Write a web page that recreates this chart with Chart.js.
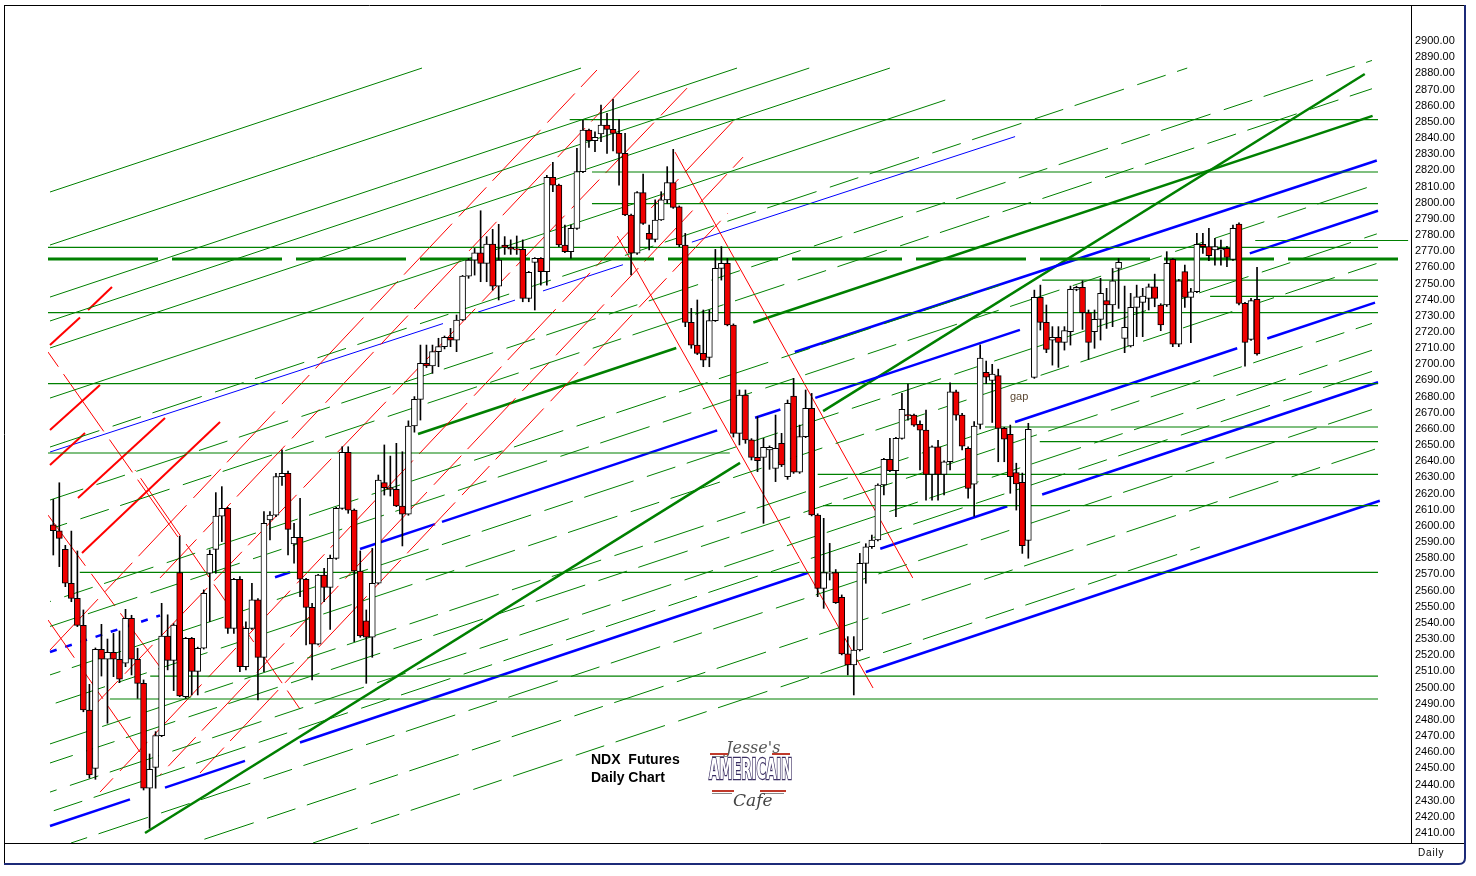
<!DOCTYPE html>
<html>
<head>
<meta charset="utf-8">
<title>NDX Futures Daily Chart</title>
<script src="https://cdn.jsdelivr.net/npm/chart.js@4.4.0/dist/chart.umd.min.js"></script>
<style>
  html, body { margin: 0; padding: 0; background: #fff; }
  #wrap { position: relative; width: 1476px; height: 876px; }
</style>
</head>
<body>
<div id="wrap"><canvas id="chart" width="1476" height="876"></canvas></div>
<script>
// daily OHLC (index 0 = first bar on the left)
const opens = [
  2600.6,2597.0,2585.5,2564.5,2555.2,2538.5,2486.1,2450.0,2523.6,2517.5,
  2521.8,2517.5,2515.0,2542.8,2517.5,2502.6,2437.7,2450.6,2470.2,2531.9,
  2516.8,2571.1,2494.3,2530.4,2510.0,2524.3,2570.7,2585.5,2606.1,2610.9,
  2536.6,2566.9,2512.9,2536.6,2554.2,2518.7,2603.7,2606.7,2630.5,2632.5,
  2588.8,2592.9,2567.0,2549.6,2526.9,2569.6,2562.0,2579.9,2610.9,2645.5,
  2609.8,2572.1,2541.2,2531.1,2564.5,2626.8,2623.7,2622.6,2612.3,2607.2,
  2661.8,2678.3,2700.6,2699.0,2707.8,2710.9,2716.7,2715.0,2727.4,2754.6,
  2764.5,2769.0,2762.4,2774.4,2748.4,2773.8,2772.3,2771.3,2771.1,2740.8,
  2763.1,2765.5,2757.3,2815.7,2810.9,2773.8,2769.7,2784.1,2819.2,2844.9,
  2838.3,2842.5,2848.0,2845.4,2842.9,2830.5,2792.4,2768.7,2806.2,2781.0,
  2777.3,2789.3,2801.7,2812.4,2797.5,2773.8,2725.9,2711.9,2706.8,2704.3,
  2727.0,2759.4,2762.5,2724.3,2657.3,2681.0,2653.2,2642.4,2642.4,2647.0,
  2635.6,2651.1,2630.5,2680.4,2633.3,2655.2,2672.7,2606.7,2561.4,2570.7,
  2571.1,2555.8,2520.8,2514.0,2523.2,2576.8,2587.1,2591.3,2625.3,2641.2,
  2634.2,2654.2,2668.9,2668.6,2662.8,2659.3,2631.9,2649.0,2631.9,2639.7,
  2683.0,2668.6,2648.0,2625.9,2662.8,2695.0,2690.0,2693.0,2660.4,2656.6,
  2633.0,2627.0,2591.1,2691.9,2741.4,2725.9,2715.0,2716.7,2713.6,2720.2,
  2746.4,2747.6,2731.9,2720.2,2727.8,2739.4,2736.7,2759.3,2716.0,2711.3,
  2735.2,2738.3,2740.8,2748.0,2736.7,2736.7,2764.9,2712.5,2757.3,2741.4,
  2744.9,2774.2,2772.8,2770.7,2770.7,2771.7,2764.9,2786.8,2737.7,2715.4,
  2740.2
];
const highs = [
  2616.4,2626.7,2588.0,2596.8,2584.5,2548.0,2502.0,2524.5,2539.1,2530.0,
  2533.5,2535.0,2548.4,2544.7,2524.3,2504.7,2458.9,2472.7,2552.1,2545.0,
  2539.5,2593.7,2531.0,2531.0,2525.0,2560.4,2585.1,2620.6,2624.3,2611.5,
  2567.5,2568.6,2540.7,2564.5,2555.0,2608.8,2608.8,2632.5,2647.0,2634.0,
  2601.6,2617.1,2567.5,2552.1,2570.0,2573.8,2582.0,2611.5,2649.0,2649.0,
  2610.5,2584.5,2548.0,2586.1,2631.5,2650.1,2643.2,2651.1,2645.9,2665.0,
  2680.0,2711.9,2711.9,2711.9,2716.1,2717.5,2722.2,2730.5,2755.0,2765.5,
  2771.7,2795.0,2779.0,2783.5,2786.6,2779.0,2777.0,2779.4,2777.0,2757.5,
  2766.0,2766.0,2817.0,2825.0,2811.5,2786.2,2786.2,2833.6,2851.1,2845.5,
  2843.9,2860.4,2855.3,2863.9,2851.5,2842.9,2793.0,2806.8,2817.7,2786.2,
  2801.7,2806.8,2822.3,2833.0,2798.0,2781.0,2734.6,2739.8,2733.6,2733.6,
  2771.1,2772.8,2765.5,2725.0,2684.1,2684.1,2654.0,2667.6,2654.2,2649.5,
  2668.6,2657.3,2677.9,2691.3,2662.4,2684.1,2682.0,2607.5,2604.7,2589.2,
  2573.0,2557.3,2531.5,2531.5,2583.0,2589.0,2594.4,2626.0,2641.8,2654.2,
  2654.8,2682.0,2687.8,2669.2,2665.0,2671.7,2649.6,2653.0,2640.3,2688.6,
  2684.1,2669.6,2649.0,2664.5,2712.0,2702.0,2700.0,2697.0,2661.0,2662.4,
  2638.8,2632.7,2663.5,2745.9,2749.0,2736.7,2723.3,2723.3,2723.3,2748.4,
  2748.4,2751.7,2733.6,2733.6,2753.2,2747.0,2759.3,2765.5,2748.4,2743.9,
  2749.0,2747.0,2749.7,2755.8,2737.5,2769.7,2765.5,2752.5,2761.4,2747.0,
  2781.0,2781.0,2784.1,2777.9,2776.9,2773.0,2786.2,2787.6,2738.3,2740.8,
  2760.0
];
const lows = [
  2582.0,2574.8,2562.4,2553.1,2537.7,2485.0,2444.0,2443.2,2507.1,2477.9,
  2506.7,2503.0,2512.9,2507.8,2493.3,2436.6,2412.9,2437.7,2469.6,2510.9,
  2498.1,2494.3,2493.3,2495.4,2495.4,2523.8,2540.8,2570.7,2590.3,2533.5,
  2533.5,2509.8,2510.9,2536.0,2492.3,2509.8,2591.3,2605.7,2625.0,2582.0,
  2576.9,2556.2,2526.3,2504.7,2526.3,2553.1,2536.0,2579.3,2610.3,2607.8,
  2528.4,2531.1,2502.6,2518.7,2564.0,2619.1,2618.5,2611.9,2587.6,2606.6,
  2658.0,2665.5,2698.0,2694.4,2698.5,2709.5,2710.9,2707.8,2727.0,2753.2,
  2755.2,2751.1,2751.1,2745.9,2739.8,2768.0,2768.0,2768.0,2738.7,2738.7,
  2733.6,2749.0,2749.0,2806.8,2772.8,2769.0,2765.6,2783.5,2818.6,2834.2,
  2831.5,2837.7,2830.5,2832.0,2810.9,2792.0,2755.3,2768.0,2786.5,2770.7,
  2775.8,2789.0,2799.6,2796.5,2772.8,2723.3,2709.9,2706.0,2698.5,2698.5,
  2726.5,2752.1,2723.8,2655.0,2650.1,2651.1,2640.8,2633.6,2601.6,2635.0,
  2627.4,2636.7,2628.8,2632.5,2632.5,2654.6,2606.2,2556.2,2549.0,2566.5,
  2552.0,2520.2,2507.8,2495.4,2522.6,2564.5,2586.0,2590.7,2619.1,2633.6,
  2605.7,2653.6,2665.5,2661.5,2634.6,2616.0,2616.0,2616.0,2619.1,2634.6,
  2665.5,2647.0,2617.1,2606.1,2660.0,2688.0,2664.0,2639.7,2639.7,2620.2,
  2609.8,2583.0,2580.0,2691.3,2721.2,2707.2,2699.5,2698.1,2708.8,2711.9,
  2745.5,2721.6,2703.0,2709.9,2715.0,2722.2,2723.3,2734.6,2707.2,2710.7,
  2717.1,2717.1,2733.6,2735.6,2720.8,2735.8,2710.9,2710.9,2735.2,2713.4,
  2744.3,2768.6,2764.1,2761.4,2761.4,2760.4,2764.3,2736.7,2698.9,2714.8,
  2705.7
];
const closes = [
  2597.0,2592.3,2564.5,2555.2,2538.5,2486.1,2445.9,2523.6,2517.5,2521.8,
  2517.5,2505.1,2542.8,2517.5,2502.6,2437.7,2449.4,2470.2,2531.9,2516.8,
  2538.7,2494.8,2530.4,2510.0,2524.3,2558.3,2582.4,2606.1,2610.9,2536.6,
  2566.9,2512.9,2536.6,2554.2,2518.7,2601.6,2606.7,2630.5,2632.5,2597.9,
  2592.9,2567.0,2549.6,2526.9,2569.6,2562.0,2579.9,2610.9,2645.5,2609.8,
  2572.1,2531.9,2531.1,2564.5,2628.4,2623.7,2622.6,2612.3,2607.2,2661.8,
  2678.3,2700.6,2699.0,2707.8,2710.9,2716.7,2715.0,2727.4,2754.6,2764.5,
  2769.0,2762.4,2774.4,2748.4,2764.5,2772.3,2771.3,2771.0,2740.8,2756.9,
  2765.5,2757.3,2815.7,2810.9,2773.8,2769.7,2784.1,2819.2,2844.9,2838.3,
  2840.4,2848.0,2845.4,2842.9,2830.5,2792.4,2768.7,2806.2,2787.2,2777.3,
  2789.3,2801.7,2812.4,2797.1,2773.8,2725.9,2711.9,2706.8,2702.6,2727.0,
  2759.4,2762.5,2724.3,2657.3,2681.0,2653.2,2642.4,2640.4,2648.6,2648.6,
  2648.0,2637.7,2675.9,2633.3,2655.2,2672.7,2606.8,2561.4,2571.1,2571.1,
  2552.5,2520.8,2514.0,2523.2,2576.8,2587.1,2591.3,2625.3,2641.2,2634.2,
  2654.2,2672.1,2668.0,2662.4,2659.3,2631.9,2649.0,2631.9,2639.7,2683.0,
  2668.6,2649.4,2623.2,2661.8,2703.9,2692.0,2694.0,2660.4,2653.6,2630.5,
  2626.0,2587.8,2659.7,2741.4,2725.9,2709.2,2716.7,2713.6,2720.8,2746.4,
  2747.6,2731.9,2713.6,2727.8,2743.9,2736.7,2751.7,2763.1,2722.9,2735.2,
  2741.8,2742.2,2748.0,2740.8,2724.3,2762.4,2712.5,2751.7,2741.4,2744.9,
  2774.2,2772.8,2767.2,2772.8,2771.7,2766.2,2784.1,2737.7,2713.6,2739.4,
  2706.4
];

const priceTicks = [
  2410,2420,2430,2440,2450,2460,2470,2480,2490,2500,
  2510,2520,2530,2540,2550,2560,2570,2580,2590,2600,
  2610,2620,2630,2640,2650,2660,2670,2680,2690,2700,
  2710,2720,2730,2740,2750,2760,2770,2780,2790,2800,
  2810,2820,2830,2840,2850,2860,2870,2880,2890,2900
];

// drawn lines, as [bar index, price, bar index, price]
const blueThick = [
  [135.0,2509.6,220.4,2615.6],
  [-0.55,2414.3,12.74,2430.8],[18.56,2438.1,31.85,2454.6],[40.99,2466.0,125.4,2571.0],
  [137.4,2585.9,158.5,2612.2],[164.3,2619.4,220.1,2688.9],
  [36.84,2568.2,39.33,2571.3],[50.96,2585.7,63.42,2601.1],[64.58,2602.5,110.3,2659.1],
  [116.6,2666.9,120.8,2672.0],[126.6,2679.2,160.6,2721.3],[198.8,2768.6,220.1,2795.0],
  [123.2,2707.6,219.9,2826.1],
  [159.8,2664.3,196.7,2709.9],[201.7,2716.0,219.6,2738.2]
];
const blueDashed = [
  [-0.55,2522.0,17.73,2544.6]
];
const blueThin = [
  [-0.55,2645.7,64.75,2725.2],[70.57,2732.3,76.71,2739.7],
  [81.36,2745.4,94.65,2761.6],[106.1,2775.6,159.8,2840.9]
];
const greenThick = [
  [15.24,2410.0,114.1,2639.0],[127.9,2671.0,217.9,2879.6],
  [60.6,2656.9,103.5,2710.1],[116.3,2725.9,219.2,2853.7]
];
// the fan of thin parallel green lines
const greenSolid = [
  [-0.55,2806.6,61.26,2883.3],[-0.55,2773.8,87.68,2883.3],
  [-0.55,2741.6,113.6,2883.3],[-0.55,2726.8,125.6,2883.3],
  [-0.55,2710.1,139.0,2883.3],[-0.55,2679.1,148.2,2863.5]
];
const greenBroken = [
  [-0.55,2648.8,188.4,2883.3],[-0.55,2616.0,219.1,2888.0],
  [-0.55,2598.1,219.1,2870.5],[-0.55,2553.2,157.3,2749.0],
  [-0.55,2537.8,219.1,2810.4],[-0.55,2507.8,219.9,2780.7],
  [-0.55,2489.2,219.9,2762.4],[-0.55,2465.1,157.3,2661.2],
  [-0.55,2453.3,219.1,2725.3],[-0.55,2435.3,219.1,2708.7],
  [-0.55,2423.0,219.1,2695.6],[2.94,2403.8,219.1,2672.0],
  [23.21,2403.8,219.6,2647.5],[43.15,2403.8,190.5,2587.0]
];
const redThin = [
  [93.7,2779.3,136.2,2499.7],
  [103.3,2831.3,142.8,2567.8]
];
// long thin red lines drawn with breaks
const redBroken = [
  [-0.55,2523.2,90.33,2882.1],[17.73,2567.8,97.48,2882.1],
  [6.60,2488.0,105.3,2870.9],[7.76,2435.3,113.6,2853.0],
  [17.73,2445.9,114.6,2828.2],[24.37,2447.1,112.1,2793.6],
  [-0.88,2707.6,21.05,2591.3],[13.57,2634.6,40.99,2486.7],
  [-0.88,2606.7,17.73,2512.7],[-0.88,2541.8,14.4,2460.1]
];
const redThick = [
  [-0.55,2711.9,4.44,2728.9],[5.77,2733.6,9.75,2747.8],
  [-0.55,2659.3,7.76,2687.2],[-0.55,2637.7,5.27,2657.5],
  [4.77,2583.2,27.7,2664.3],[4.10,2617.3,18.56,2666.8]
];
// horizontal levels: [price, from index, to index]
const levelsThick = [[2765.1,-0.88,225.1]];
const levels = [
  [2851.4,85.8,220.1],[2819.0,89.5,220.1],[2799.4,89.5,220.1],[2776.6,199.7,225.1],
  [2772.3,-0.88,220.1],[2752.1,164.3,220.1],[2742.0,192.2,220.1],[2732.0,-0.88,220.1],
  [2688.1,-0.88,220.1],[2661.2,154.8,220.1],[2652.1,163.9,220.1],[2645.1,-0.88,112.4],
  [2631.9,127.0,220.1],[2612.6,127.9,220.1],[2571.3,4.4,220.1],[2507.1,16.1,220.1],
  [2492.9,9.4,220.1]
];

const datasets = [];

function addSegments(list, color, width, dash) {
  list.forEach((s, n) => datasets.push({
    type: 'line',
    data: [{x: s[0], y: s[1]}, {x: s[2], y: s[3]}],
    borderColor: color, borderWidth: width, borderDash: dash || [],
    borderDashOffset: dash ? n * 17 : 0,
    pointRadius: 0, pointHoverRadius: 0, fill: false, tension: 0,
    order: 10, clip: 0
  }));
}
function addLevels(list, color, width, dash) {
  addSegments(list.map(l => [l[1], l[0], l[2], l[0]]), color, width, dash);
}

addSegments(greenSolid, '#008000', 1);
addSegments(greenBroken, '#008000', 1, [52, 14, 30, 12]);
addLevels(levels, '#008000', 1.2);
addLevels(levelsThick, '#008000', 3, [110, 14]);
addSegments(redBroken, '#ff0000', 1, [70, 10, 40, 9]);
addSegments(redThin, '#ff0000', 1);
addSegments(redThick, '#ff0000', 2);
addSegments(blueThin, '#0000ff', 1);
addSegments(blueThick, '#0000ff', 2.5);
addSegments(blueDashed, '#0000ff', 2.5, [7, 9]);
addSegments(greenThick, '#008000', 2.5);

// candles: wick bar + body bar
const wicks = opens.map((o, i) => ({x: i, y: [lows[i], highs[i]]}));
const bodies = opens.map((o, i) => {
  let a = o, b = closes[i];
  if (Math.abs(a - b) < 0.7) { const m = (a + b) / 2; a = m - 0.35; b = m + 0.35; }
  return {x: i, y: [a, b]};
});
const bodyColors = opens.map((o, i) => closes[i] < o ? '#f00000' : '#ffffff');

datasets.push({
  type: 'bar', data: wicks, backgroundColor: '#000', borderWidth: 0,
  barThickness: 1, grouped: false, order: 2
});
datasets.push({
  type: 'bar', data: bodies, backgroundColor: bodyColors, borderColor: '#000',
  borderWidth: 1, borderSkipped: false, barThickness: 6, grouped: false, order: 1
});

const frame = {
  id: 'frame',
  afterDraw(chart) {
    const ctx = chart.ctx;
    ctx.save();
    ctx.strokeStyle = '#000';
    ctx.lineWidth = 1;
    ctx.beginPath();
    ctx.moveTo(4, 5.5); ctx.lineTo(1466, 5.5);
    ctx.moveTo(4.5, 5); ctx.lineTo(4.5, 864);
    ctx.moveTo(1411.5, 5); ctx.lineTo(1411.5, 843);
    ctx.moveTo(4, 843.5); ctx.lineTo(1466, 843.5);
    ctx.stroke();
    ctx.strokeStyle = '#1c2a78';
    ctx.lineWidth = 2;
    ctx.beginPath();
    ctx.moveTo(1465, 5); ctx.lineTo(1465, 858);
    ctx.quadraticCurveTo(1465, 864, 1459, 864);
    ctx.lineTo(4, 864);
    ctx.stroke();

    ctx.fillStyle = '#000';
    ctx.font = '10px "Liberation Sans", Arial, sans-serif';
    ctx.textBaseline = 'middle';
    ctx.fillText('D a i l y'.replace(/ /g, '\u200A'), 1418, 853);

    ctx.font = 'bold 14px "Liberation Sans", Arial, sans-serif';
    ctx.fillText('NDX  Futures', 591, 760);
    ctx.fillText('Daily Chart', 591, 778);

    ctx.fillStyle = '#5a4630';
    ctx.font = '11px "Liberation Sans", Arial, sans-serif';
    ctx.fillText('gap', 1010, 397);

    // logo
    ctx.fillStyle = '#555';
    ctx.font = 'italic 16px "DejaVu Serif", serif';
    ctx.fillText("Jesse's", 726, 749);
    ctx.fillStyle = '#c0392b';
    ctx.fillRect(710, 753, 18, 2);
    ctx.fillRect(772, 753, 18, 2);
    ctx.fillRect(712, 790, 22, 2);
    ctx.fillRect(760, 790, 26, 2);
    ctx.fillStyle = '#888';
    ctx.fillRect(712, 756, 16, 1);
    ctx.fillRect(712, 793, 20, 1);
    ctx.fillRect(762, 793, 22, 1);
    ctx.save();
    ctx.translate(709, 772);
    ctx.scale(0.55, 1.15);
    ctx.font = 'bold 24px "DejaVu Sans", sans-serif';
    ctx.lineWidth = 2.2;
    ctx.strokeStyle = '#3a2e62';
    ctx.strokeText('AMERICAIN', 0, 0);
    ctx.fillStyle = '#fff';
    ctx.fillText('AMERICAIN', 0, 0);
    ctx.restore();
    ctx.fillStyle = '#444';
    ctx.font = 'italic 17px "DejaVu Serif", serif';
    ctx.fillText('Cafe', 733, 802);
    ctx.restore();
  }
};

new Chart(document.getElementById('chart'), {
  type: 'bar',
  data: { datasets },
  options: {
    responsive: false,
    animation: false,
    events: [],
    layout: { padding: { left: 48, right: 10, top: 6, bottom: 33 } },
    plugins: { legend: { display: false }, tooltip: { enabled: false } },
    scales: {
      x: { type: 'linear', min: -0.88, max: 225.58, display: false, offset: false },
      y: {
        position: 'right', min: 2403.8, max: 2921.7,
        afterBuildTicks: s => { s.ticks = priceTicks.map(v => ({value: v})); },
        afterFit: s => { s.width = 55; s.paddingTop = 0; s.paddingBottom = 0; },
        grid: { display: false, drawTicks: false },
        border: { display: false },
        ticks: {
          autoSkip: false, padding: 4, color: '#000',
          font: { family: '"Liberation Sans", Arial, sans-serif', size: 11 },
          callback: v => v.toFixed(2)
        }
      }
    }
  },
  plugins: [frame]
});
</script>
</body>
</html>
